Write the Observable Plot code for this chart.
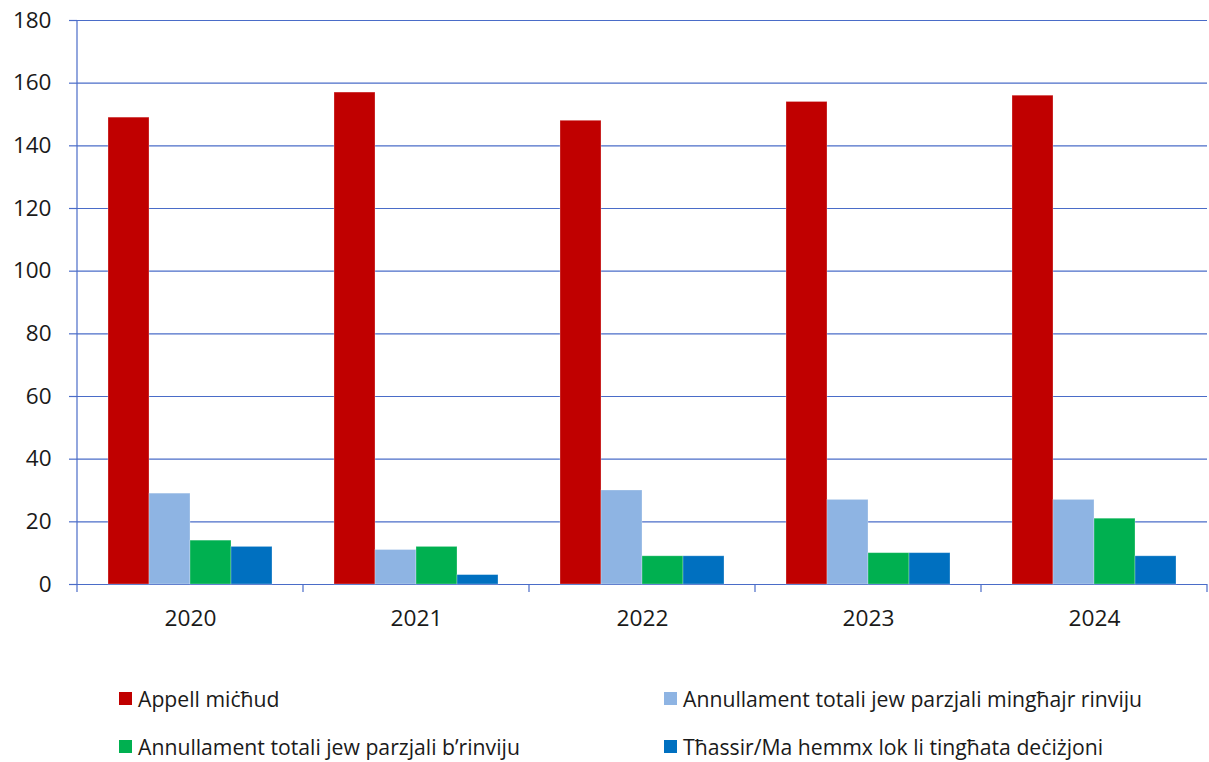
<!DOCTYPE html>
<html>
<head>
<meta charset="utf-8">
<script src="https://cdn.jsdelivr.net/npm/d3@7"></script>
<script src="https://cdn.jsdelivr.net/npm/@observablehq/plot@0.6"></script>
<style>
  html, body { margin: 0; padding: 0; background: #fff; }
  #wrap { position: relative; width: 1209px; height: 762px; font-family: "Open Sans", sans-serif; color: #1a1a1a; }
  #chart svg { display: block; }
  .lg { position: absolute; display: flex; align-items: center; font-size: 21.2px; white-space: nowrap; }
  .lg .sw { width: 13px; height: 13px; margin-right: 6px; flex: none; }
</style>
</head>
<body>
<div id="wrap"><div id="chart"></div><div id="legend"></div></div>
<script>
const years = ["2020", "2021", "2022", "2023", "2024"];
const series = [
  "Appell miċħud",
  "Annullament totali jew parzjali mingħajr rinviju",
  "Annullament totali jew parzjali b’rinviju",
  "Tħassir/Ma hemmx lok li tingħata deċiżjoni"
];
const colors = ["#c00000", "#8eb4e3", "#00b050", "#0070c0"];
const appellMichud = [149, 157, 148, 154, 156];
const annullamentMinghajrRinviju = [29, 11, 30, 27, 27];
const annullamentBRinviju = [14, 12, 9, 10, 21];
const thassir = [12, 3, 9, 10, 9];
const yTicks = [0, 20, 40, 60, 80, 100, 120, 140, 160, 180];

const seriesValues = [appellMichud, annullamentMinghajrRinviju, annullamentBRinviju, thassir];
const data = years.flatMap((yr, i) => series.map((s, j) => ({year: yr, series: s, value: seriesValues[j][i]})));

const gridColor = "#4a6cc8";

const plot = Plot.plot({
  width: 1209,
  height: 660,
  marginLeft: 76,
  marginRight: 1,
  marginTop: 20,
  marginBottom: 76,
  style: {fontFamily: "Open Sans", fontSize: "22px", color: "#1a1a1a", background: "white"},
  fx: {domain: years, padding: 0, label: null},
  x: {domain: series, paddingInner: 0, paddingOuter: 0.74, axis: null},
  y: {domain: [0, 180], ticks: yTicks, label: null},
  color: {domain: series, range: colors},
  marks: [
    Plot.gridY(yTicks, {stroke: gridColor, strokeOpacity: 1, strokeWidth: 1.2}),
    Plot.axisY(yTicks, {tickSize: 8, tickPadding: 18, stroke: gridColor, strokeOpacity: 1, strokeWidth: 1.2, fontSize: 22.5, label: null}),
    Plot.barY(data, {fx: "year", x: "series", y: "value", fill: "series", stroke: "white", strokeOpacity: 0.35, strokeWidth: 0.8}),
    Plot.axisFx({anchor: "bottom", tickSize: 0, tickPadding: 25, label: null, fontSize: 22.7})
  ]
});

document.getElementById("chart").appendChild(plot);

// axis line and group-boundary ticks from the Plot scales
const fx = plot.scale("fx");
const y = plot.scale("y");
const svg = d3.select(plot);
const bounds = years.map(v => fx.apply(v)).concat([fx.apply(years[years.length - 1]) + fx.bandwidth]);
const y0 = y.apply(0), yTop = y.apply(180);
const g = svg.append("g").attr("stroke", gridColor).attr("stroke-width", 1.2);
g.append("line").attr("x1", bounds[0]).attr("x2", bounds[0]).attr("y1", yTop).attr("y2", y0 + 8);
bounds.slice(1).forEach(b => {
  g.append("line").attr("x1", b).attr("x2", b).attr("y1", y0).attr("y2", y0 + 8);
});

// legend
const legendPos = [[119, 684], [664, 684], [119, 732], [664, 732]];
const legend = document.getElementById("legend");
series.forEach((s, i) => {
  const d = document.createElement("div");
  d.className = "lg";
  d.style.left = legendPos[i][0] + "px";
  d.style.top = legendPos[i][1] + "px";
  d.innerHTML = `<span class="sw" style="background:${colors[i]}"></span><span>${s}</span>`;
  legend.appendChild(d);
});
</script>
</body>
</html>
